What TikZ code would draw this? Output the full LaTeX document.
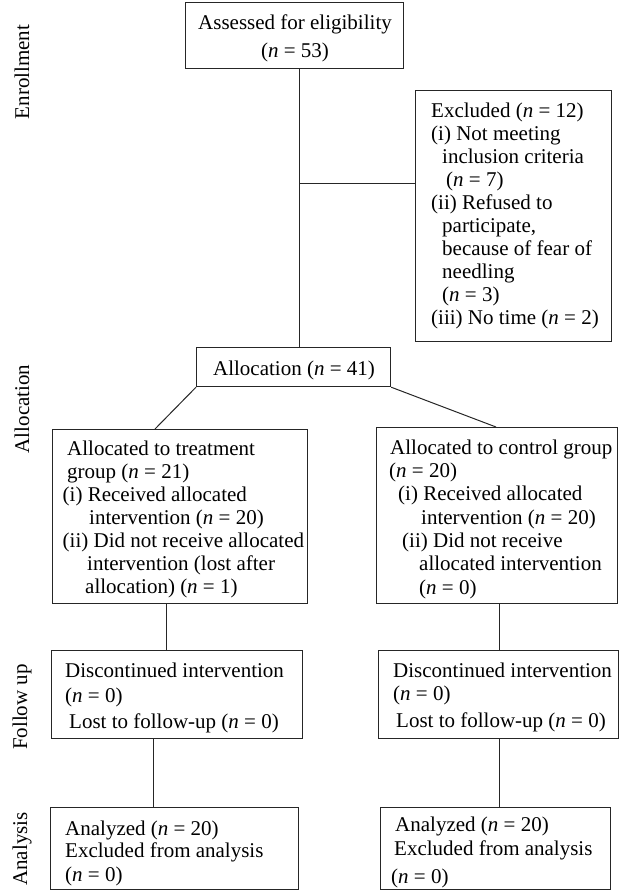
\documentclass[tikz,border=0pt]{standalone}
\usepackage{fontspec}
\setmainfont{Liberation Serif}
\tikzset{
  box/.style={draw=black!85, line width=1.2pt, rectangle, inner sep=0pt, anchor=north west},
  txt/.style={inner sep=0pt, anchor=base west, font=\fontsize{21}{23}\selectfont},
  txtc/.style={inner sep=0pt, anchor=base, font=\fontsize{21}{23}\selectfont},
  side/.style={inner sep=0pt, rotate=90, font=\fontsize{21}{23}\selectfont},
  conn/.style={draw=black!85, line width=1pt}
}
\newcommand{\txtline}[4]{\node[txt] (#1) at (#2,#3) {#4};}
\newcommand{\nn}{\textit{n}}
\begin{document}
\begin{tikzpicture}[x=1pt,y=-1pt]
\useasboundingbox (0,0) rectangle (633,892);
% side labels
\node[side] (lenr) at (22,72) {Enrollment};
\node[side] (lall) at (22,409) {Allocation};
\node[side] (lfu) at (22,707) {Follow up};
\node[side] (lan) at (22,849) {Analysis};
% boxes
\node[box, minimum width=218pt, minimum height=66pt] (top) at (185,2) {};
\node[box, minimum width=196pt, minimum height=251pt] (excl) at (415,90) {};
\node[box, minimum width=194pt, minimum height=39pt] (alloc) at (196,347) {};
\node[box, minimum width=255pt, minimum height=174pt] (treat) at (52,429) {};
\node[box, minimum width=241pt, minimum height=176pt] (ctrl) at (376,427) {};
\node[box, minimum width=251pt, minimum height=88pt] (fuL) at (51,650) {};
\node[box, minimum width=240pt, minimum height=88pt] (fuR) at (378,650) {};
\node[box, minimum width=248pt, minimum height=82pt] (anL) at (50,807) {};
\node[box, minimum width=230pt, minimum height=82pt] (anR) at (380,807) {};
% texts
\node[txtc] (t1) at (295,29) {Assessed for eligibility};
\node[txtc] (t2) at (295,57) {(\nn{} = 53)};
\txtline{e1}{431}{117}{Excluded (\nn{} = 12)}
\txtline{e2}{431}{140}{(i) Not meeting}
\txtline{e3}{442}{163}{inclusion criteria}
\txtline{e4}{446}{186}{(\nn{} = 7)}
\txtline{e5}{431}{209}{(ii) Refused to}
\txtline{e6}{442}{232}{participate,}
\txtline{e7}{442}{255}{because of fear of}
\txtline{e8}{442}{278}{needling}
\txtline{e9}{442}{301}{(\nn{} = 3)}
\txtline{e10}{431}{324}{(iii) No time (\nn{} = 2)}
\node[txtc] (a1) at (294,375) {Allocation (\nn{} = 41)};
\txtline{r1}{67}{455}{Allocated to treatment}
\txtline{r2}{67}{478}{group (\nn{} = 21)}
\txtline{r3}{62.5}{501}{(i) Received allocated}
\txtline{r4}{89}{524}{intervention (\nn{} = 20)}
\txtline{r5}{62.5}{547}{(ii) Did not receive allocated}
\txtline{r6}{87}{570}{intervention (lost after}
\txtline{r7}{85}{593}{allocation) (\nn{} = 1)}
\txtline{c1}{390}{454}{Allocated to control group}
\txtline{c2}{389}{477}{(\nn{} = 20)}
\txtline{c3}{398}{500}{(i) Received allocated}
\txtline{c4}{421}{524}{intervention (\nn{} = 20)}
\txtline{c5}{402}{547}{(ii) Did not receive}
\txtline{c6}{419}{570}{allocated intervention}
\txtline{c7}{419}{594}{(\nn{} = 0)}
\txtline{f1}{65}{677}{Discontinued intervention}
\txtline{f2}{65}{702}{(\nn{} = 0)}
\txtline{f3}{69}{728}{Lost to follow-up (\nn{} = 0)}
\txtline{g1}{393}{677}{Discontinued intervention}
\txtline{g2}{393}{700}{(\nn{} = 0)}
\txtline{g3}{396}{727}{Lost to follow-up (\nn{} = 0)}
\txtline{h1}{65}{835}{Analyzed (\nn{} = 20)}
\txtline{h2}{65}{857}{Excluded from analysis}
\txtline{h3}{65}{881}{(\nn{} = 0)}
\txtline{k1}{395}{831}{Analyzed (\nn{} = 20)}
\txtline{k2}{394}{855}{Excluded from analysis}
\txtline{k3}{391}{883}{(\nn{} = 0)}
% connector anchor coordinates
\coordinate (tk) at (299,0);
\coordinate (br) at (299,183);
\coordinate (dl) at (155,0);
\coordinate (dr) at (496,0);
\coordinate (vl1) at (166,0);
\coordinate (vr) at (499,0);
\coordinate (vl2) at (153,0);
% connectors
\draw[conn] (top.south -| tk) -- (alloc.north -| tk);
\draw[conn] (br) -- (br -| excl.west);
\draw[conn] (alloc.south west) -- (treat.north -| dl);
\draw[conn] (alloc.south east) -- (ctrl.north -| dr);
\draw[conn] (treat.south -| vl1) -- (fuL.north -| vl1);
\draw[conn] (ctrl.south -| vr) -- (fuR.north -| vr);
\draw[conn] (fuL.south -| vl2) -- (anL.north -| vl2);
\draw[conn] (fuR.south -| vr) -- (anR.north -| vr);
\end{tikzpicture}
\end{document}
